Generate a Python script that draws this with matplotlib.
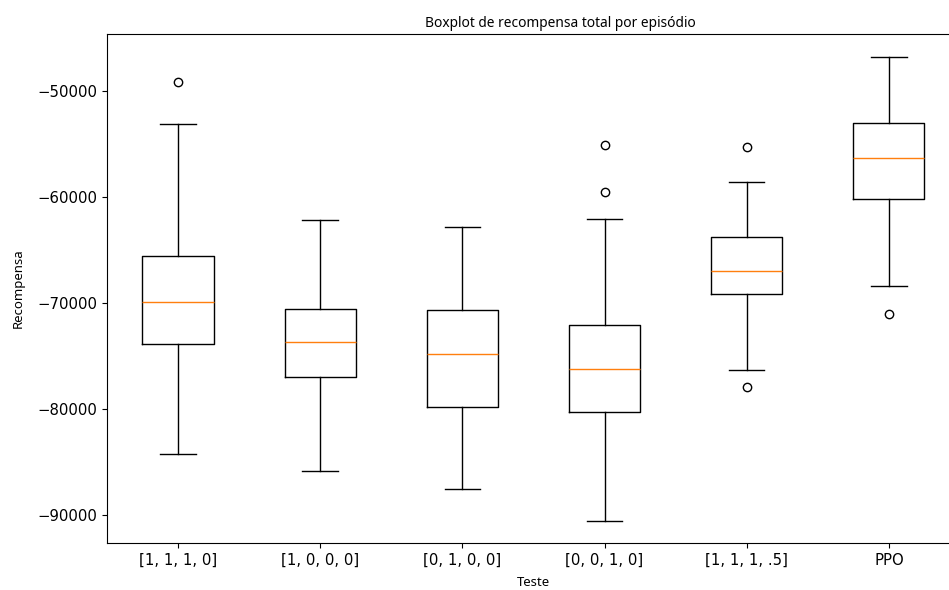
import matplotlib
matplotlib.use("Agg")
import matplotlib.pyplot as plt

# Test labels and box statistics
testes = ["[1, 1, 1, 0]", "[1, 0, 0, 0]", "[0, 1, 0, 0]", "[0, 0, 1, 0]", "[1, 1, 1, .5]", "PPO"]
whisker_low = [-84250, -85850, -87520, -90590, -76350, -68400]
q1 = [-73840, -76980, -79810, -80310, -69150, -60220]
median = [-69910, -73650, -74810, -76250, -66980, -56350]
q3 = [-65540, -70540, -70660, -72080, -63770, -53020]
whisker_high = [-53110, -62170, -62830, -62080, -58590, -46790]
outliers = [[-49150], [], [], [-55090, -59500], [-55280, -77930], [-71040]]

# -------------------------------------------------------------------------- #

stats = []
for i, nome in enumerate(testes):
    stats.append({
        "label": nome,
        "whislo": whisker_low[i],
        "q1": q1[i],
        "med": median[i],
        "q3": q3[i],
        "whishi": whisker_high[i],
        "fliers": outliers[i],
    })

fig = plt.figure(figsize=(9.49, 5.9), dpi=100)
ax = fig.add_axes([0.1126, 0.0797, 0.899, 0.8635])

ax.bxp(stats, showfliers=True)

ax.set_xlim(0.5, 6.5)
ax.set_ylim(-92640, -44575)

ax.tick_params(axis="both", labelsize=10.7)
# title sits a bit right of the axes centre in the original
ax.set_title("Boxplot de recompensa total por episódio", fontsize=9.9, family="Noto Sans", pad=5, x=0.532)
ax.set_xlabel("Teste", fontsize=9.5, family="Noto Sans", labelpad=6)
ax.set_ylabel("Recompensa", fontsize=9.5, family="Noto Sans", labelpad=9)

fig.savefig("out.png", dpi=100)
